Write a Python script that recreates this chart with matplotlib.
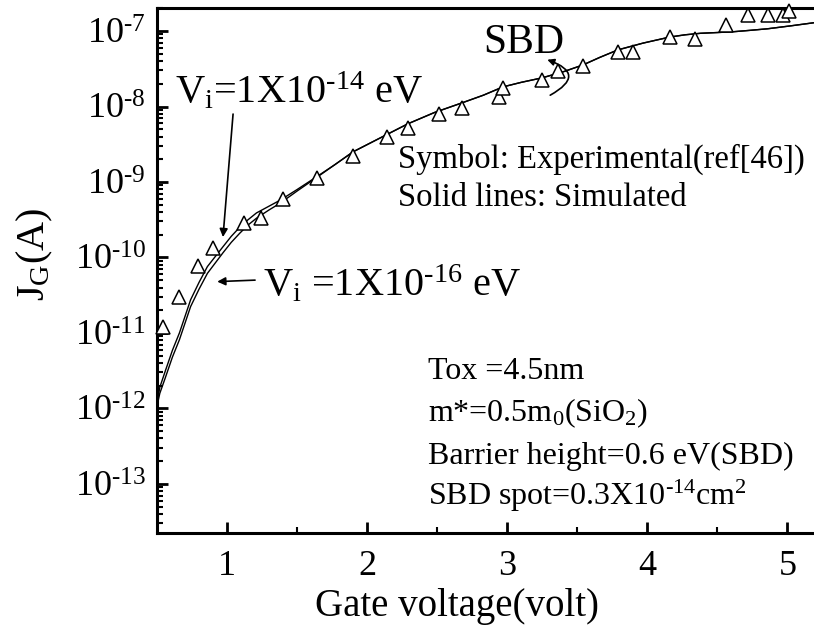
import numpy as np
import matplotlib
matplotlib.use("Agg")
import matplotlib.pyplot as plt
from matplotlib.ticker import LogLocator, FixedLocator, FuncFormatter, NullFormatter
from matplotlib.patches import FancyArrowPatch

plt.rcParams["font.family"] = ["Liberation Serif", "DejaVu Serif"]
plt.rcParams["mathtext.fontset"] = "custom"
plt.rcParams["mathtext.rm"] = "Liberation Serif"
plt.rcParams["mathtext.it"] = "Liberation Serif:italic"
plt.rcParams["mathtext.bf"] = "Liberation Serif:bold"
plt.rcParams["mathtext.default"] = "rm"
plt.rcParams["axes.unicode_minus"] = False

# Experimental gate current (symbols)
exp_v = [0.54, 0.66, 0.79, 0.90, 1.12, 1.24, 1.40, 1.64, 1.90, 2.14, 2.29,
         2.51, 2.68, 2.94, 2.97, 3.25, 3.36, 3.54, 3.79, 3.90, 4.16, 4.34,
         4.56, 4.72, 4.86, 4.97, 5.01]
exp_j = [1.2e-11, 3.0e-11, 7.8e-11, 1.35e-10, 2.9e-10, 3.3e-10, 5.9e-10,
         1.12e-9, 2.2e-9, 4.0e-9, 5.2e-9, 7.9e-9, 9.5e-9, 1.35e-8, 1.74e-8,
         2.24e-8, 2.95e-8, 3.4e-8, 5.2e-8, 5.2e-8, 8.3e-8, 7.8e-8, 1.2e-7,
         1.62e-7, 1.62e-7, 1.62e-7, 1.82e-7]

# Simulated curve, Vi = 1X10^-14 eV
sim14_v = [0.50, 0.52, 0.56, 0.61, 0.66, 0.74, 0.80, 0.86, 0.97, 1.03, 1.09,
           1.15, 1.21, 1.30, 1.38, 1.50, 1.64, 1.77, 1.90, 2.10, 2.29, 2.48,
           2.68, 2.83, 2.97, 3.10, 3.25, 3.40, 3.54, 3.66, 3.79, 3.97, 4.16,
           4.27, 4.38, 4.50, 4.61, 4.74, 4.86, 5.03, 5.19]
sim14_logj = [-11.93, -11.72, -11.50, -11.23, -11.00, -10.56, -10.33, -10.12,
              -9.86, -9.72, -9.60, -9.50, -9.41, -9.32, -9.24, -9.10, -8.93,
              -8.77, -8.60, -8.41, -8.23, -8.08, -7.95, -7.85, -7.74, -7.68,
              -7.62, -7.54, -7.45, -7.35, -7.25, -7.16, -7.08, -7.05, -7.03,
              -7.02, -7.01, -6.99, -6.97, -6.93, -6.89]

# Simulated curve, Vi = 1X10^-16 eV
sim16_v = [0.50, 0.52, 0.56, 0.61, 0.66, 0.74, 0.80, 0.86, 0.97, 1.03, 1.09,
           1.15, 1.21, 1.30, 1.38, 1.50, 1.64, 1.77, 1.90, 2.10, 2.29, 2.48,
           2.68, 2.83, 2.97, 3.10, 3.25, 3.40, 3.54, 3.66, 3.79, 3.97, 4.16,
           4.27, 4.38, 4.50, 4.61, 4.74, 4.86, 5.03, 5.19]
sim16_logj = [-11.97, -11.80, -11.59, -11.32, -11.09, -10.65, -10.42, -10.21,
              -9.94, -9.80, -9.68, -9.57, -9.48, -9.37, -9.28, -9.12, -8.94,
              -8.77, -8.60, -8.41, -8.23, -8.08, -7.95, -7.85, -7.74, -7.68,
              -7.62, -7.54, -7.45, -7.35, -7.25, -7.16, -7.08, -7.05, -7.03,
              -7.02, -7.01, -6.99, -6.97, -6.93, -6.89]

x_ticks = [1, 2, 3, 4, 5]
y_decades = [-13, -12, -11, -10, -9, -8, -7]

fig = plt.figure(figsize=(8.14, 6.28), dpi=100)
ax = fig.add_axes([157 / 814, 95 / 628, 657 / 814, 525 / 628])

ax.plot(sim14_v, 10 ** np.array(sim14_logj), color="black", lw=1.0)
ax.plot(sim16_v, 10 ** np.array(sim16_logj), color="black", lw=1.0)
ax.plot(exp_v, exp_j, linestyle="none", marker="^", markersize=10,
        markerfacecolor="white", markeredgecolor="black", markeredgewidth=1.1,
        clip_on=False, zorder=3)

ax.set_yscale("log")
ax.set_xlim(0.5, 5.19)
ax.set_ylim(10 ** -13.65, 10 ** -6.695)

ax.xaxis.set_major_locator(FixedLocator(x_ticks))
ax.xaxis.set_minor_locator(FixedLocator([1.5, 2.5, 3.5, 4.5]))
ax.yaxis.set_major_locator(FixedLocator([10.0 ** d for d in y_decades]))
ax.yaxis.set_minor_locator(LogLocator(base=10, subs=np.arange(2, 10)))
ax.yaxis.set_minor_formatter(NullFormatter())
ax.yaxis.set_major_formatter(
    FuncFormatter(lambda v, p: "10$^{\\text{-}%d}$" % round(-np.log10(v))))

ax.tick_params(axis="both", which="major", direction="in", length=8, width=2.0,
               labelsize=26, top=False, right=False)
ax.tick_params(axis="both", which="minor", direction="in", length=4, width=1.5,
               top=False, right=False)
ax.tick_params(axis="x", which="major", pad=12)
ax.tick_params(axis="y", which="major", pad=8)

for side in ("left", "bottom", "top"):
    ax.spines[side].set_linewidth(2.2)
ax.spines["right"].set_visible(False)

ax.set_xlabel("Gate voltage(volt)", fontsize=28, va="baseline")
ax.xaxis.set_label_coords(0.457, -0.158)
ax.set_ylabel("J$_\\mathrm{G}$(A)", fontsize=29, va="center")
ax.yaxis.set_label_coords(-0.186, 0.531)

big = 29
small = 23
ax.text(0.027, 0.819, "V$_\\mathrm{i}$=1X10$^{\\text{-}14}$ eV", transform=ax.transAxes,
        fontsize=big, va="baseline", ha="left")
ax.text(0.161, 0.450, "V$_\\mathrm{i}$ =1X10$^{\\text{-}16}$ eV", transform=ax.transAxes,
        fontsize=big, va="baseline", ha="left")
ax.text(0.496, 0.914, "SBD", transform=ax.transAxes, fontsize=30,
        va="baseline", ha="left")
ax.text(0.367, 0.695, "Symbol: Experimental(ref[46])", transform=ax.transAxes,
        fontsize=23.5, va="baseline", ha="left")
ax.text(0.367, 0.623, "Solid lines: Simulated", transform=ax.transAxes,
        fontsize=23.5, va="baseline", ha="left")
ax.text(0.412, 0.293, "Tox =4.5nm", transform=ax.transAxes,
        fontsize=small, va="baseline", ha="left")
ax.text(0.412, 0.213, "m*=0.5m$_0$(SiO$_2$)", transform=ax.transAxes,
        fontsize=small, va="baseline", ha="left")
ax.text(0.412, 0.131, "Barrier height=0.6 eV(SBD)", transform=ax.transAxes,
        fontsize=small, va="baseline", ha="left")
ax.text(0.412, 0.053, "SBD spot=0.3X10$^{\\text{-}14}$cm$^2$", transform=ax.transAxes,
        fontsize=small, va="baseline", ha="left")

# pointer arrows to the two simulated curves
ax.annotate("", xy=(0.971, 10 ** -9.73), xytext=(1.043, 10 ** -8.10),
            arrowprops=dict(arrowstyle="-|>", color="black", lw=1.2,
                            mutation_scale=12, shrinkA=0, shrinkB=0))
ax.annotate("", xy=(0.93, 10 ** -10.32), xytext=(1.20, 10 ** -10.30),
            arrowprops=dict(arrowstyle="-|>", color="black", lw=1.2,
                            mutation_scale=12, shrinkA=0, shrinkB=0))

# curved arrow marking the soft breakdown region
arc = FancyArrowPatch((3.307, 10 ** -7.85), (3.286, 10 ** -7.38),
                      connectionstyle="arc3,rad=1.1", arrowstyle="-|>",
                      mutation_scale=10, lw=1.2, color="black",
                      shrinkA=0, shrinkB=0)
ax.add_patch(arc)

fig.savefig("out.png", dpi=100)
